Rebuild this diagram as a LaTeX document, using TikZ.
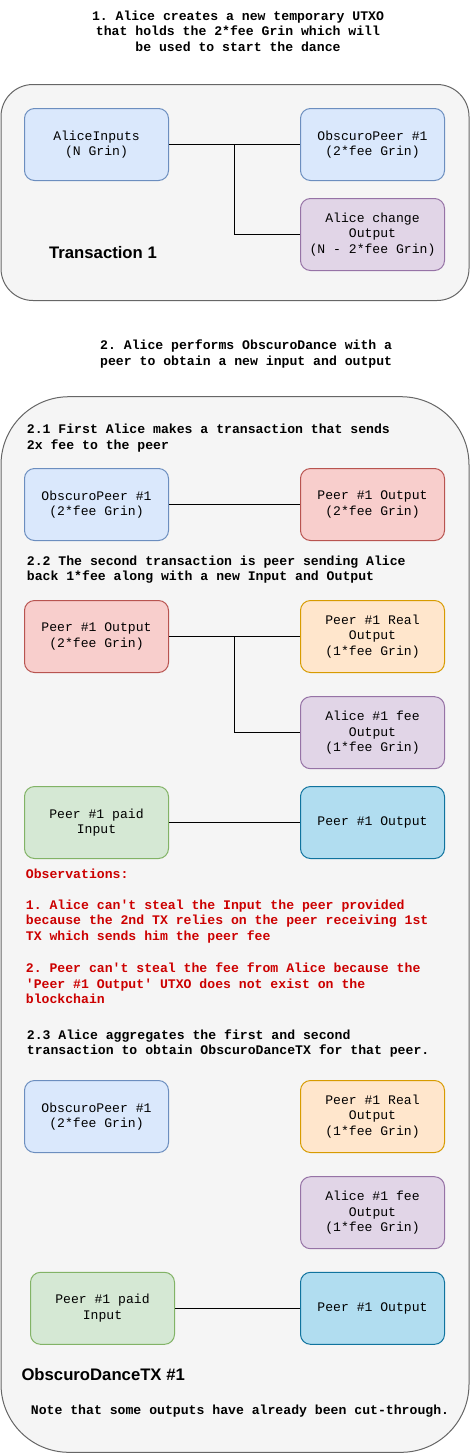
\documentclass[tikz,border=0pt]{standalone}
\usepackage{fontspec}
\setmainfont{Liberation Sans}
\setsansfont{Liberation Sans}
\setmonofont{Liberation Mono}
\definecolor{bluef}{HTML}{DAE8FC}\definecolor{blued}{HTML}{6C8EBF}
\definecolor{purpf}{HTML}{E1D5E7}\definecolor{purpd}{HTML}{9673A6}
\definecolor{redf}{HTML}{F8CECC}\definecolor{redd}{HTML}{B85450}
\definecolor{orf}{HTML}{FFE6CC}\definecolor{ord}{HTML}{D79B00}
\definecolor{grf}{HTML}{D5E8D4}\definecolor{grd}{HTML}{82B366}
\definecolor{cyf}{HTML}{B1DDF0}\definecolor{cyd}{HTML}{10739E}
\definecolor{contf}{HTML}{F5F5F5}\definecolor{contd}{HTML}{666666}
\definecolor{obsred}{HTML}{CC0000}
\newcommand{\monotxt}{\ttfamily\fontsize{13.1}{15.5}\selectfont}
\newcommand{\monobold}{\ttfamily\bfseries\fontsize{13.15}{15.5}\selectfont}
\tikzset{
  box/.style={draw, rounded corners=10pt, minimum width=144pt, minimum height=72pt,
    inner sep=0pt, align=center, font=\monotxt, line width=1pt},
  bluebox/.style={box, fill=bluef, draw=blued},
  purpbox/.style={box, fill=purpf, draw=purpd},
  redbox/.style={box, fill=redf, draw=redd},
  orbox/.style={box, fill=orf, draw=ord},
  grbox/.style={box, fill=grf, draw=grd},
  cybox/.style={box, fill=cyf, draw=cyd},
  container/.style={draw=contd, fill=contf, line width=1pt, inner sep=0pt, minimum width=468pt},
  conn/.style={draw=black, line width=1pt},
  heading/.style={font=\monobold, inner sep=0pt, align=left, anchor=west},
  obs/.style={font=\monobold, text=obsred, inner sep=0pt, align=left, anchor=west},
  caption/.style={font=\sffamily\bfseries\fontsize{16.7}{20}\selectfont, inner sep=0pt}
}
\begin{document}
\begin{tikzpicture}[x=1pt,y=-1pt]
\useasboundingbox (0,0) rectangle (470,1454);
% titles
\node[font=\monobold, align=center, inner sep=0pt] (t1) at (238,31)
  {1. Alice creates a new temporary UTXO\\that holds the 2*fee Grin which will\\be used to start the dance};
% container 1
\node[container, rounded corners=32pt, minimum height=216pt] (c1) at (235,192.5) {};
\node[bluebox] (ain) at (96.5,144.5) {AliceInputs\\(N Grin)};
\node[bluebox] (op1) at (372.5,144.5) {ObscuroPeer \#1\\(2*fee Grin)};
\node[purpbox] (ach) at (372.5,234.5) {Alice change\\Output\\(N - 2*fee Grin)};
\coordinate (b1) at (234.7,144.5);
\draw[conn] (ain.east) -- (op1.west);
\draw[conn] (b1) |- (ach.west);
\node[caption] (tx1) at (103,253) {Transaction 1};
% title 2
\node[heading] (t2) at (100,354) {2. Alice performs ObscuroDance with a\\peer to obtain a new input and output};
% container 2
\node[container, rounded corners=68pt, minimum height=1055.6pt] (c2) at (235,924.5) {};
\node[heading] (h21) at (26.7,438) {2.1 First Alice makes a transaction that sends\\2x fee to the peer};
\node[bluebox] (op2) at (96.5,504.5) {ObscuroPeer \#1\\(2*fee Grin)};
\node[redbox] (po1) at (372.5,504.5) {Peer \#1 Output\\(2*fee Grin)};
\draw[conn] (op2.east) -- (po1.west);
\node[heading] (h22) at (26.7,569.7) {2.2 The second transaction is peer sending Alice\\back 1*fee along with a new Input and Output};
\node[redbox] (po2) at (96.5,636.5) {Peer \#1 Output\\(2*fee Grin)};
\node[orbox] (pr1) at (372.5,636.5) {Peer \#1 Real\\Output\\(1*fee Grin)};
\node[purpbox] (af1) at (372.5,732.7) {Alice \#1 fee\\Output\\(1*fee Grin)};
\coordinate (b2) at (234.7,636.5);
\draw[conn] (po2.east) -- (pr1.west);
\draw[conn] (b2) |- (af1.west);
\node[grbox] (pi1) at (96.5,822.5) {Peer \#1 paid\\Input};
\node[cybox] (pb1) at (372.5,822.5) {Peer \#1 Output};
\draw[conn] (pi1.east) -- (pb1.west);
\node[obs] (obs0) at (25.7,874) {Observations:};
\node[obs] (obs1) at (25.7,921.2) {1. Alice can't steal the Input the peer provided\\because the 2nd TX relies on the peer receiving 1st\\TX which sends him the peer fee};
\node[obs] (obs2) at (25.7,983.4) {2. Peer can't steal the fee from Alice because the\\'Peer \#1 Output' UTXO does not exist on the\\blockchain};
\node[heading] (h23) at (26.7,1043.7) {2.3 Alice aggregates the first and second\\transaction to obtain ObscuroDanceTX for that peer.};
\node[bluebox] (op3) at (96.5,1116.5) {ObscuroPeer \#1\\(2*fee Grin)};
\node[orbox] (pr2) at (372.5,1116.5) {Peer \#1 Real\\Output\\(1*fee Grin)};
\node[purpbox] (af2) at (372.5,1212.7) {Alice \#1 fee\\Output\\(1*fee Grin)};
\node[grbox] (pi2) at (102.5,1308.3) {Peer \#1 paid\\Input};
\node[cybox] (pb2) at (372.5,1308.3) {Peer \#1 Output};
\draw[conn] (pi2.east) -- (pb2.west);
\node[caption, anchor=west] (dtx) at (21.3,1375) {ObscuroDanceTX \#1};
\node[heading] (note) at (30.7,1411) {Note that some outputs have already been cut-through.};
\end{tikzpicture}
\end{document}
